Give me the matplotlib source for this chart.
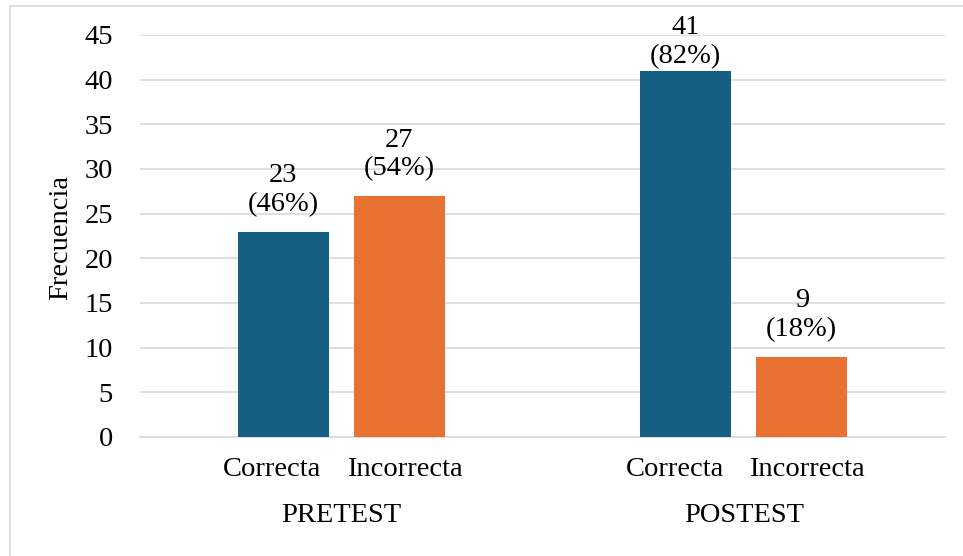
import matplotlib.pyplot as plt
from matplotlib.patches import Rectangle
from matplotlib.transforms import blended_transform_factory

grupos = ["PRETEST", "POSTEST"]
respuestas = ["Correcta", "Incorrecta"]
correcta = [23, 41]
incorrecta = [27, 9]
pct_correcta = [46, 82]
pct_incorrecta = [54, 18]

azul = "#156082"
naranja = "#E97132"
fs = 20.5

plt.rcParams['font.family'] = ['Liberation Serif', 'DejaVu Serif']

fig = plt.figure(figsize=(9.63, 5.56), dpi=100)
ax = fig.add_axes([140 / 963, 1 - 437 / 556, 805 / 963, 402 / 556])

# marco del gráfico
fig.patches.append(Rectangle((10 / 963, -0.1), 1.0, 1 - 6 / 556 + 0.1,
                             transform=fig.transFigure, fill=False,
                             edgecolor="#d9d9d9", linewidth=1.2))

centros = [0.5, 1.5]
ancho = 0.226
desp = 0.144


def etiqueta(x, v, p):
    # como en Excel, la etiqueta no sale del área de trazado
    y = min(v + 1.6, 41.2)
    ax.text(x, y, f"{v}\n({p}%)", ha="center", va="bottom",
            fontsize=fs, linespacing=1.2)


for i, c in enumerate(centros):
    ax.bar(c - desp, correcta[i], width=ancho, color=azul, zorder=3)
    ax.bar(c + desp, incorrecta[i], width=ancho, color=naranja, zorder=3)
    etiqueta(c - desp, correcta[i], pct_correcta[i])
    etiqueta(c + desp, incorrecta[i], pct_incorrecta[i])

ax.set_xlim(0, 2)
ax.set_ylim(0, 45)
ax.set_yticks(range(0, 46, 5))
ax.tick_params(axis="y", length=0, pad=19.5, labelsize=fs)
ax.set_xticks([])
ax.yaxis.grid(True, color="#d9d9d9", linewidth=1.2, zorder=0)
ax.set_axisbelow(True)
for s in ["top", "right", "left"]:
    ax.spines[s].set_visible(False)
ax.spines["bottom"].set_color("#d9d9d9")
ax.spines["bottom"].set_linewidth(1.2)

ax.set_ylabel("Frecuencia", fontsize=fs, va="center")
ax.yaxis.set_label_coords((61 - 140) / 805, (437 - 237) / 402)

tr = blended_transform_factory(ax.transData, fig.transFigure)
for i, c in enumerate(centros):
    ax.text(c - 0.172, 1 - 470 / 556, respuestas[0], transform=tr,
            ha="center", va="center", fontsize=fs)
    ax.text(c + 0.157, 1 - 470 / 556, respuestas[1], transform=tr,
            ha="center", va="center", fontsize=fs)
    ax.text(c, 1 - 515 / 556, grupos[i], transform=tr,
            ha="center", va="center", fontsize=fs)

fig.savefig("out.png", dpi=100)
